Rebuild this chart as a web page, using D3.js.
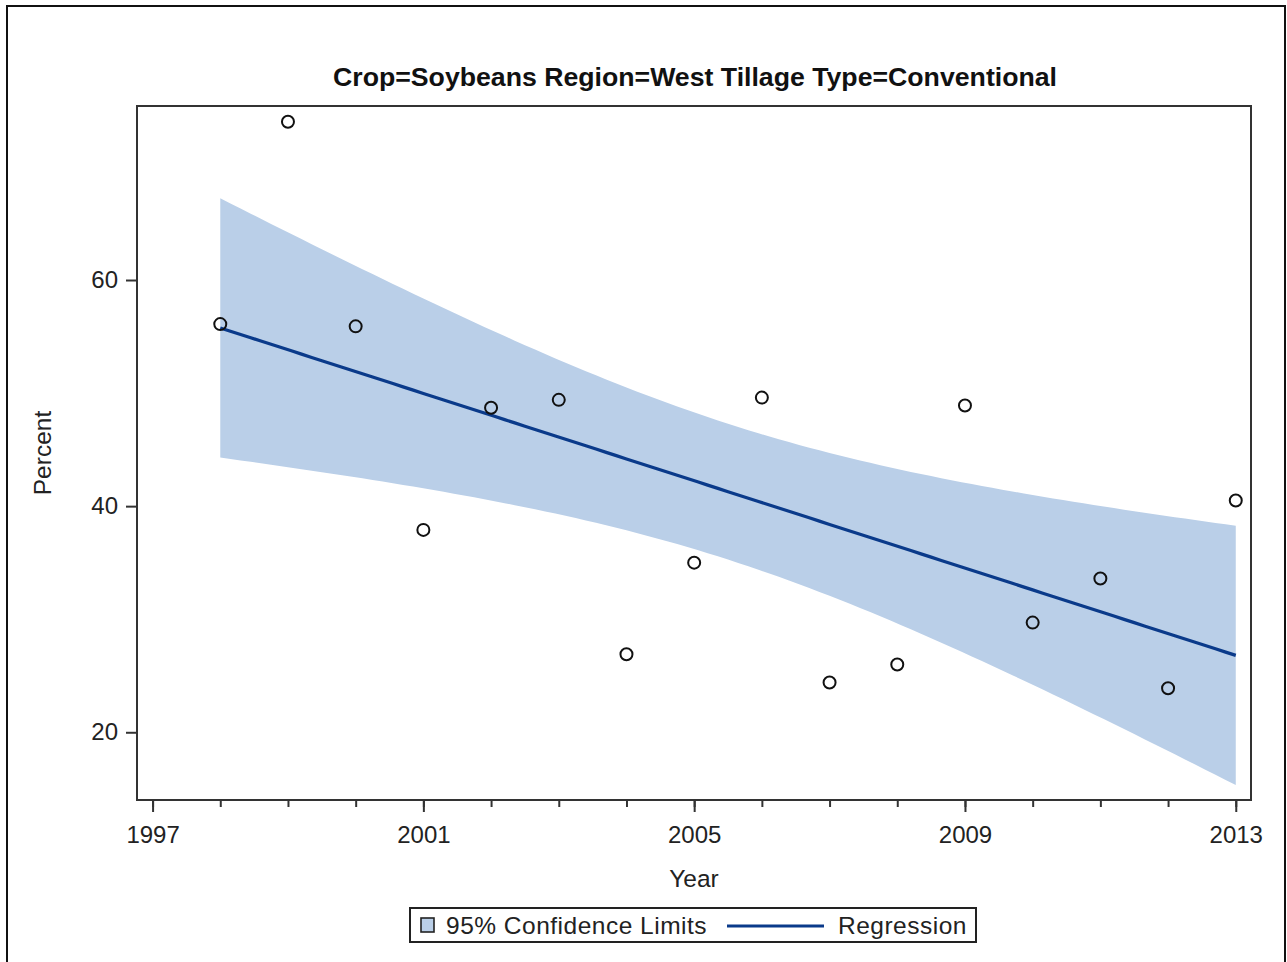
<!DOCTYPE html>
<html>
<head>
<meta charset="utf-8">
<script src="https://cdn.jsdelivr.net/npm/d3@7"></script>
<style>
  html, body { margin: 0; padding: 0; background: #fff; }
  svg { display: block; }
  text { font-family: "Liberation Sans", Arial, sans-serif; fill: #222; }
</style>
</head>
<body>
<svg id="chart" width="1287" height="962"></svg>
<script>
// ---- Data ----
const years = [1998, 1999, 2000, 2001, 2002, 2003, 2004, 2005, 2006, 2007, 2008, 2009, 2010, 2011, 2012, 2013];
const percent = [56.1, 74.0, 55.9, 37.9, 48.7, 49.4, 26.9, 35.0, 49.6, 24.4, 26.0, 48.9, 29.7, 33.6, 23.9, 40.5];
const xTickLabels = [1997, 2001, 2005, 2009, 2013];
const xMinorTicks = d3.range(1997, 2014);
const yTickLabels = [20, 40, 60];
const titleText = "Crop=Soybeans Region=West Tillage Type=Conventional";
const xLabel = "Year";
const yLabel = "Percent";
const legendItems = ["95% Confidence Limits", "Regression"];
const tCrit = 2.1448; // t(0.975, df = n-2 = 14)

// ---- Regression + 95% confidence limits of the mean, computed from the points ----
const n = years.length;
const mx = d3.mean(years), my = d3.mean(percent);
const sxx = d3.sum(years, x => (x - mx) ** 2);
const sxy = d3.sum(years, (x, i) => (x - mx) * (percent[i] - my));
const slope = sxy / sxx, intercept = my - slope * mx;
const sse = d3.sum(years, (x, i) => (percent[i] - (intercept + slope * x)) ** 2);
const se = Math.sqrt(sse / (n - 2));
const xMin = d3.min(years), xMax = d3.max(years);
const band = d3.range(0, 101).map(k => {
  const x = xMin + (xMax - xMin) * k / 100;
  const fit = intercept + slope * x;
  const hw = tCrit * se * Math.sqrt(1 / n + (x - mx) ** 2 / sxx);
  return { x, fit, lo: fit - hw, hi: fit + hw };
});

// ---- Layout ----
const svg = d3.select("#chart");
const plot = { left: 137, right: 1251, top: 106, bottom: 800 };
const x = d3.scaleLinear().domain([1996.77, 2013.225]).range([plot.left, plot.right]);
const y = d3.scaleLinear().domain([14.01, 75.39]).range([plot.bottom, plot.top]);

// outer frame
svg.append("path")
  .attr("d", "M7,970 V6 H1285 V970")
  .attr("fill", "none").attr("stroke", "#111").attr("stroke-width", 2);

// band
svg.append("path")
  .datum(band)
  .attr("fill", "#BACFE8")
  .attr("d", d3.area().x(d => x(d.x)).y0(d => y(d.lo)).y1(d => y(d.hi)));

// regression line
svg.append("path")
  .datum(band)
  .attr("fill", "none").attr("stroke", "#0A3A8A").attr("stroke-width", 3.2)
  .attr("d", d3.line().x(d => x(d.x)).y(d => y(d.fit)));

// points
svg.append("g").selectAll("circle")
  .data(years)
  .join("circle")
  .attr("cx", d => x(d))
  .attr("cy", (d, i) => y(percent[i]))
  .attr("r", 6)
  .attr("fill", "none").attr("stroke", "#111").attr("stroke-width", 2);

// plot frame
svg.append("rect")
  .attr("x", plot.left).attr("y", plot.top)
  .attr("width", plot.right - plot.left).attr("height", plot.bottom - plot.top)
  .attr("fill", "none").attr("stroke", "#333").attr("stroke-width", 2);

// x axis
const xAxisMinor = d3.axisBottom(x).tickValues(xMinorTicks).tickSize(7).tickFormat("");
svg.append("g").attr("transform", `translate(0,${plot.bottom})`).call(xAxisMinor)
  .call(g => g.select(".domain").remove())
  .call(g => g.selectAll("line").attr("stroke", "#333").attr("stroke-width", 2));
const xAxis = d3.axisBottom(x).tickValues(xTickLabels).tickSize(12).tickPadding(14).tickFormat(d3.format("d"));
svg.append("g").attr("transform", `translate(0,${plot.bottom})`).call(xAxis)
  .call(g => g.select(".domain").remove())
  .call(g => g.selectAll("line").attr("stroke", "#333").attr("stroke-width", 2))
  .call(g => g.selectAll("text").attr("font-size", 24).attr("fill", "#222")
    .attr("font-family", "'Liberation Sans', Arial, sans-serif"));

// y axis
const yAxis = d3.axisLeft(y).tickValues(yTickLabels).tickSize(11).tickPadding(8).tickFormat(d3.format("d"));
svg.append("g").attr("transform", `translate(${plot.left},0)`).call(yAxis)
  .call(g => g.select(".domain").remove())
  .call(g => g.selectAll("line").attr("stroke", "#333").attr("stroke-width", 2))
  .call(g => g.selectAll("text").attr("font-size", 24).attr("fill", "#222")
    .attr("font-family", "'Liberation Sans', Arial, sans-serif"));

// title
svg.append("text")
  .attr("x", 695).attr("y", 86)
  .attr("text-anchor", "middle")
  .attr("font-family", "'Liberation Sans Narrow', 'Arial Narrow', sans-serif")
  .attr("font-weight", "bold").attr("font-size", 25.5)
  .attr("textLength", 724).attr("lengthAdjust", "spacingAndGlyphs")
  .style("fill", "#111")
  .text(titleText);

// axis labels
svg.append("text").attr("x", 694).attr("y", 887).attr("text-anchor", "middle")
  .attr("font-size", 24.5).text(xLabel);
svg.append("text").attr("transform", "translate(51,453) rotate(-90)").attr("text-anchor", "middle")
  .attr("font-size", 24.5).text(yLabel);

// legend
const lg = svg.append("g");
lg.append("rect").attr("x", 410).attr("y", 908).attr("width", 566).attr("height", 34)
  .attr("fill", "#fff").attr("stroke", "#222").attr("stroke-width", 2);
lg.append("rect").attr("x", 421).attr("y", 918).attr("width", 13).attr("height", 14)
  .attr("fill", "#BACFE8").attr("stroke", "#222").attr("stroke-width", 1.6);
lg.append("text").attr("x", 446).attr("y", 934).attr("font-size", 24.5)
  .attr("letter-spacing", 0.5).text(legendItems[0]);
lg.append("line").attr("x1", 727).attr("x2", 824).attr("y1", 926).attr("y2", 926)
  .attr("stroke", "#0A3A8A").attr("stroke-width", 3.2);
lg.append("text").attr("x", 838).attr("y", 934).attr("font-size", 24.5)
  .attr("letter-spacing", 0.5).text(legendItems[1]);
</script>
</body>
</html>
